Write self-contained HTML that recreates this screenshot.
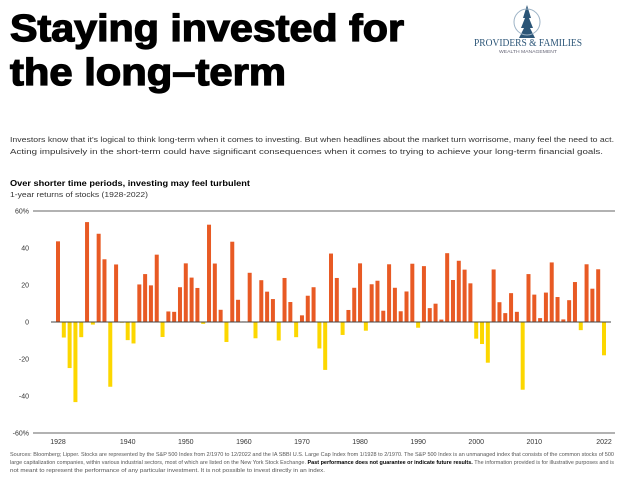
<!DOCTYPE html>
<html><head><meta charset="utf-8"><style>
html,body{margin:0;padding:0;background:#fff;}
svg{display:block;font-family:"Liberation Sans",sans-serif;}
</style></head><body>
<svg id="c" width="624" height="483" viewBox="0 0 624 483" xmlns="http://www.w3.org/2000/svg">
<text x="10" y="41" font-size="38" font-weight="bold" fill="#000" stroke="#000" stroke-width="1.3" textLength="394" lengthAdjust="spacingAndGlyphs">Staying invested for</text>
<text x="10" y="85" font-size="38" font-weight="bold" fill="#000" stroke="#000" stroke-width="1.3" textLength="276" lengthAdjust="spacingAndGlyphs">the long–term</text>
<g>
<path d="M527 5 L523 18 L525 18 L521 28 L524 28 L519 38 L535 38 L530 28 L533 28 L529 18 L531 18 Z" fill="#2b5577"/>
<circle cx="527" cy="22" r="13" fill="none" stroke="#9db3c6" stroke-width="1"/>
<text x="528" y="46" font-family="Liberation Serif,serif" font-size="10" fill="#2b5577" text-anchor="middle" textLength="108" lengthAdjust="spacingAndGlyphs">PROVIDERS &amp; FAMILIES</text>
<text x="528" y="53" font-size="4.5" fill="#667" text-anchor="middle" textLength="58" lengthAdjust="spacingAndGlyphs">WEALTH MANAGEMENT</text>
</g>
<text x="10" y="142" font-size="7.4" fill="#333" textLength="604" lengthAdjust="spacingAndGlyphs">Investors know that it's logical to think long-term when it comes to investing. But when headlines about the market turn worrisome, many feel the need to act.</text>
<text x="10" y="154" font-size="7.4" fill="#333" textLength="593" lengthAdjust="spacingAndGlyphs">Acting impulsively in the short-term could have significant consequences when it comes to trying to achieve your long-term financial goals.</text>
<text x="10" y="186" font-size="8.2" font-weight="bold" fill="#000" textLength="240" lengthAdjust="spacingAndGlyphs">Over shorter time periods, investing may feel turbulent</text>
<text x="10" y="197" font-size="7.4" fill="#333" textLength="138" lengthAdjust="spacingAndGlyphs">1-year returns of stocks (1928-2022)</text>
<g id="plot"></g>
<text x="10" y="456" font-size="5.3" fill="#555" textLength="604" lengthAdjust="spacingAndGlyphs">Sources: Bloomberg; Lipper. Stocks are represented by the S&amp;P 500 Index from 2/1970 to 12/2022 and the IA SBBI U.S. Large Cap Index from 1/1928 to 2/1970. The S&amp;P 500 Index is an unmanaged index that consists of the common stocks of 500</text>
<text x="10" y="464" font-size="5.3" fill="#555" textLength="604" lengthAdjust="spacingAndGlyphs">large capitalization companies, within various industrial sectors, most of which are listed on the New York Stock Exchange. <tspan font-weight="bold" fill="#000">Past performance does not guarantee or indicate future results.</tspan> The information provided is for illustrative purposes and is</text>
<text x="10" y="472" font-size="5.3" fill="#555" textLength="315" lengthAdjust="spacingAndGlyphs">not meant to represent the performance of any particular investment. It is not possible to invest directly in an index.</text>
</svg>
<script>
const years = [];
for (let y = 1928; y <= 2022; y++) years.push(y);
const returns = [43.6,-8.4,-24.9,-43.3,-8.2,54.0,-1.4,47.7,33.9,-35.0,31.1,-0.4,-9.8,-11.6,20.3,25.9,19.8,36.4,-8.1,5.7,5.5,18.8,31.7,24.0,18.4,-1.0,52.6,31.6,6.6,-10.8,43.4,12.0,0.3,26.6,-8.8,22.6,16.4,12.4,-10.0,23.8,10.8,-8.2,3.6,14.2,18.8,-14.3,-25.9,37.0,23.8,-7.0,6.5,18.5,31.7,-4.7,20.4,22.3,6.1,31.2,18.5,5.8,16.5,31.5,-3.1,30.2,7.5,9.9,1.3,37.2,22.7,33.1,28.3,20.9,-9.0,-11.9,-22.0,28.4,10.7,4.8,15.6,5.5,-36.6,25.9,14.8,2.1,15.9,32.2,13.5,1.4,11.8,21.6,-4.4,31.2,18.0,28.5,-18.0];
const yTicks = [60,40,20,0,-20,-40,-60];
const yTickLabels = ["60%","40","20","0","-20","-40","-60%"];
const xTicks = [1928,1940,1950,1960,1970,1980,1990,2000,2010,2022];

const NS = "http://www.w3.org/2000/svg";
const g = document.getElementById("plot");
const x = yr => 58 + (yr - 1928) * (604 - 58) / (2022 - 1928);
const y = v => 322 - v * (111 / 60);
function mk(tag, attrs){ const e = document.createElementNS(NS, tag); for (const k in attrs) e.setAttribute(k, attrs[k]); g.appendChild(e); return e; }

yTicks.forEach((t, i) => {
  if (t === 60 || t === -60) {
    const l = mk("line", {x1:33, x2:615, y1:y(t), y2:y(t), stroke:"#666", "stroke-width":1});
    
    
  }
  const tx = mk("text", {x:29, y:y(t)+2.5, "font-size":7, fill:"#333", "text-anchor":"end"});
  tx.textContent = yTickLabels[i];
  
  
});
xTicks.forEach(t => {
  const tx = mk("text", {x:x(t), y:444, "font-size":7, fill:"#333", "text-anchor":"middle"});
  tx.textContent = t;
  
  
});
returns.forEach((v, i) => {
  const top = Math.min(y(v), y(0)), h = Math.abs(y(v) - y(0));
  const r = mk("rect", {x:x(years[i]) - 2, y:top, width:4, height:Math.max(h, 0.5), fill: v >= 0 ? "#e85a24" : "#fcd700"});
  
  
});
const z = mk("line", {x1:51, x2:611, y1:y(0), y2:y(0), stroke:"#444", "stroke-width":1});


</script>
</body></html>
